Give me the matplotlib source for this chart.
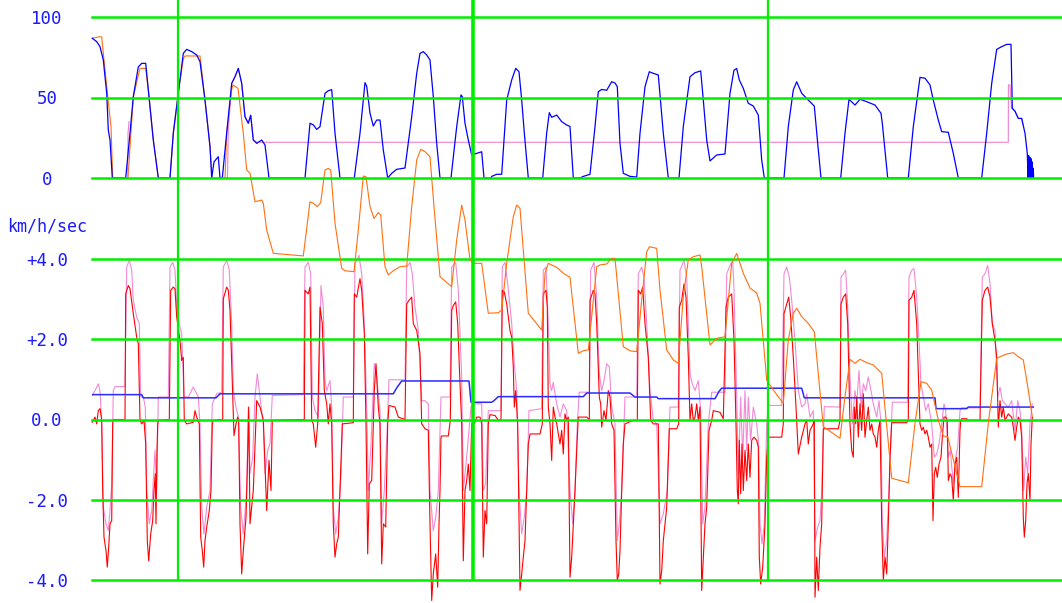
import numpy as np
import matplotlib
matplotlib.use('Agg')
import matplotlib.pyplot as plt

# time in seconds from the left edge of the plot
vlines_t = [86, 381, 676]

# speed (km/h), blue
speed = [(0.3, 86.8), (4.7, 84.7), (8, 81.6), (11.3, 73.3), (14.7, 52.8), (16.3, 29.8), (18, 23.6), (20.3, 0),
         (33.7, 0), (38, 28), (41.3, 50.5), (46.3, 69), (49.7, 71.2), (53.7, 71.2), (56.3, 54.7), (61.3, 23.6), (66.3, 0),
         (78, 0), (81.3, 27.8), (86.3, 52.8), (91.3, 77.4), (94.7, 79.9), (99.7, 78.5), (104.7, 76.4), (108, 72.3),
         (113, 48.4), (118, 19.5), (119.7, 0), (122, 10), (126.3, 13.2), (128, 0), (130.3, 0),
         (134.7, 28), (139.7, 58.8), (143, 62.9), (146.3, 68.1), (149.7, 58.8), (153, 38), (156.3, 34), (158.7, 39),
         (161.3, 23.6), (164.7, 21.5), (169.7, 23.6), (173, 20.5), (177, 0), (213, 0),
         (218, 34), (221.3, 33), (224.7, 30.2), (228, 31.9), (233, 52.6), (236.3, 54.2), (239.7, 54.9), (243, 27.8), (248, 0),
         (262.3, 0), (268, 27.8), (273, 59.2), (274.7, 57), (278, 40.2), (281.3, 32.3), (284.7, 36), (288, 36),
         (291.3, 17.4), (295.7, 0), (299.7, 2.9), (304.7, 5.4), (313, 6.2),
         (319.7, 38), (324.7, 65), (328, 77.4), (331.3, 78.5), (334.7, 76.4), (338, 73.3), (341.3, 50.5), (344.7, 21.5), (348, 0),
         (359, 0), (364.7, 31.9), (369, 51.6), (370.3, 50.5), (373, 34), (376.3, 23.6), (379.7, 14.3), (384.7, 15.3),
         (389.7, 16.3), (392, 0), (399, 0), (399.7, 1), (404.7, 2.3), (409.7, 2.3),
         (414.7, 48.4), (419.7, 60.9), (423.7, 68.1), (427, 66), (429.7, 48.4), (432.3, 28), (436.3, 0),
         (450.7, 0), (454.7, 28), (457.3, 40.6), (459.7, 37.7), (464.7, 39.1), (469.7, 35), (474.7, 32.9), (478, 32), (481.3, 0),
         (488, 0), (491.3, 1), (498, 2.3), (503, 31.9), (506.3, 53.6), (509.7, 55), (514.7, 54.5), (519.7, 59.8), (523, 59),
         (525.3, 56.7), (528, 21.5), (531.3, 2.9), (538, 1), (544.7, 0.6),
         (548, 27.8), (553, 56.7), (557.3, 66), (561.3, 65), (566.3, 64), (571.3, 27.8), (576.3, 0),
         (587, 0), (591.3, 31.9), (598, 62.9), (603, 65.4), (608.7, 66.5), (611.3, 48.4), (614.7, 23.6), (618, 10.6),
         (624.7, 14.3), (633, 14.9), (638, 52.6), (642, 67), (644.7, 68), (647.3, 60.9), (651.3, 55.7), (656.3, 46.4),
         (661.3, 44.7), (666.3, 39.1), (669.7, 11.2), (672.3, 0),
         (692, 0), (696.3, 31.9), (701.3, 54.7), (704.7, 59.8), (709.7, 52.6), (716.3, 48.4), (722.3, 44.7), (725.7, 21.5), (729, 0),
         (748.7, 0), (753, 27.8), (757, 48.9), (763, 45.3), (768, 48.9), (774.7, 47.4), (783, 45.3), (789, 40.2), (790.3, 34), (795.7, 0),
         (816.3, 0), (821.3, 31.9), (828, 62.5), (833, 62), (838, 57.8), (841.3, 48.4), (846.3, 36), (849.7, 28.8),
         (856.3, 28.4), (861.3, 15.3), (866.3, 0),
         (889.7, 0), (894.7, 27.8), (899.7, 58.8), (904.7, 79.9), (909.7, 81.6), (914.7, 83), (919, 83), (920.3, 43.3),
         (923, 41.5), (926.3, 37), (929.7, 37), (933, 27.8), (935.3, 15.3), (936, 0), (936.6, 14), (937.2, 0), (937.8, 13),
         (938.4, 0), (939, 12), (939.6, 0), (940.2, 10), (940.8, 0), (941.3, 6), (941.6, 0)]

# orange trace, same scale as speed (runs below zero)
orange = [(0.3, 86.8), (8, 87.8), (9.7, 87.5), (14.7, 56.7), (19, 31.9), (20.7, 0), (36, 0), (41.3, 50.5), (48, 68.1),
          (53.7, 68.1), (56.3, 54.7), (61.3, 23.6), (66.3, 0), (78, 0), (81.3, 27.8), (86.3, 52.8), (91.3, 74), (93, 75.8),
          (108, 75.8), (113, 48.4), (118, 19.5), (120, 0), (133, 0), (134.7, 28), (139.7, 55), (141, 57.8), (146, 55.7),
          (151.3, 27.8), (154.7, 5), (158, 2.9), (163, -14.7), (169.7, -13.7), (171.3, -15.7), (174.7, -32.3), (181.3, -46.8),
          (211.3, -48.4), (218, -14.7), (221.3, -15.7), (225.3, -17.8), (228.7, -15.3), (233, 5), (236.3, 6), (238.7, 5),
          (243, -28.1), (249.7, -56.1), (253, -57.6), (262, -58.2), (266.3, -32.3), (271.3, 1.2), (274, 0.8), (278, -17.8),
          (282, -25.1), (286.3, -21.5), (288.7, -23), (293, -55.1), (296.3, -60.2), (301.3, -57.6), (308, -55.1),
          (314.7, -54.7), (319.7, -17.8), (324.7, 11.2), (328.7, 17.8), (333, 16.4), (338, 13.2), (342, -17.8), (348, -61.3),
          (359.7, -67.5), (364.7, -38.5), (369.7, -16.8), (373, -26.1), (378, -50.9), (381.3, -53), (389.7, -53),
          (396.3, -84), (406.3, -83.7), (409.7, -82), (414.7, -53), (421.3, -24), (424.7, -16.8), (428, -18.8), (436.3, -84),
          (443, -89.2), (449.7, -94.4), (453, -59.2), (456.3, -53), (459.7, -54), (464.7, -55.5), (471.3, -59.2),
          (478, -61.7), (486.3, -108.9), (491.3, -107.3), (496.3, -106.8), (504.7, -55.1), (508, -54), (514.7, -53.4),
          (519.7, -49.9), (523, -49.9), (531.3, -104.8), (538, -107.3), (544.7, -107.9), (549.7, -75.8), (554.7, -45.8),
          (557.3, -42.7), (564.7, -43.7), (568, -69.6), (574.7, -106.8), (581.3, -113), (586.3, -115.1), (591.3, -73.7),
          (596.3, -50.9), (601.3, -48.9), (608, -47.8), (609.7, -55.1), (618, -103.7), (624.7, -99.6), (633, -98.6),
          (639.7, -53), (644.7, -46.8), (651.3, -59.2), (658, -68.3), (664.7, -71.5), (668, -77.8), (674.7, -125.5),
          (681.3, -131.7), (691.3, -140), (696.3, -100.6), (701.3, -84), (704.7, -80.9), (709.7, -86.1), (716.3, -90.3),
          (722.3, -95.5), (731.3, -154.4), (748, -161.7), (753, -135.8), (758, -112.6), (763, -115.1), (768, -112.6),
          (774.7, -114.7), (781.3, -116.1), (789.7, -121.3), (799.7, -186.5), (816.3, -189.3), (823, -152.4), (829, -126.5),
          (834.7, -127.5), (839.7, -131.7), (846.3, -150.3), (851.3, -160.2), (855.7, -160.7), (868, -191.7),
          (889.7, -191.7), (896.3, -152.4), (904.7, -112), (908, -111), (914.7, -109.3), (921.3, -108.5), (926.3, -111),
          (931.3, -113), (936.3, -131.7), (940.3, -148.3)]

# pink trace on the speed panel (nan = gap)
pink_spd = [(33, 0), (35.7, 0), (36, 28), (37, 35), (np.nan, np.nan),
            (134.5, 0), (135.5, 0), (136.3, 30), (139.7, 58.8), (143, 62.9), (146.3, 68.1), (149.7, 58.8), (153, 38),
            (156.3, 34), (158.7, 39), (161.3, 23.6), (165, 22.2), (916.3, 22.2), (916.4, 57.8), (918, 57.8),
            (919.5, 43.3), (923, 41.5), (926.3, 37), (929.7, 37), (931, 33)]

# acceleration (km/h/sec), red
accel = [(0.3, -0.07), (3.0, 0.06), (4.7, -0.11), (6.3, 0.22), (8.0, 0.27), (9.7, 0.0), (10.7, -1.77), (12.0, -2.93),
         (14.0, -3.27), (15.3, -3.68), (16.7, -3.18), (18.0, -2.60), (19.7, -2.52), (20.7, -0.11), (21.3, 0.0), (33.0, 0.0),
         (33.7, 3.13), (36.3, 3.34), (38.0, 3.26), (41.3, 2.64), (44.7, 2.05), (46.3, 1.89), (48.0, -0.02), (49.7, -0.11),
         (52.0, -0.02), (53.7, -0.61), (55.3, -3.02), (56.7, -3.52), (58.7, -2.85), (60.7, -2.52), (62.0, -1.77),
         (63.3, -1.35), (64.0, -2.60), (65.0, -0.77), (65.7, -0.11), (66.7, -0.02), (77.3, 0.0), (78.7, 3.22), (81.3, 3.30),
         (83.0, 3.26), (84.7, 2.55), (88.0, 1.97), (89.7, 1.47), (91.3, 1.55), (92.3, -0.02), (94.7, -0.11), (101.3, -0.07),
         (103.0, 0.22), (104.7, 0.06), (107.3, -0.11), (108.7, -2.93), (110.3, -3.27), (111.7, -3.68), (113.0, -3.02),
         (114.7, -2.68), (117.3, -2.27), (119.0, -1.77), (120.3, -0.11), (121.3, -0.02), (130.7, 0.0), (131.3, 3.01),
         (134.7, 3.30), (136.3, 3.22), (138.0, 2.72), (140.7, 0.56), (142.0, -0.40), (144.0, -0.11), (145.7, 0.06),
         (146.7, -0.02), (148.0, -2.60), (149.7, -3.85), (151.3, -3.27), (154.0, -2.44), (155.3, -1.27), (156.7, 0.31),
         (158.0, -2.60), (161.3, -1.77), (164.7, 0.47), (168.0, 0.31), (171.3, 0.0),
         (174.7, -2.27), (177.0, -1.02), (179.0, -1.77), (180.3, -0.02), (212.3, 0.0), (213.0, 3.22), (216.3, 3.13),
         (218.0, 3.30), (219.7, -0.02), (221.3, -0.11), (223.7, -0.69), (225.7, -0.11), (228.0, 2.80), (230.3, 2.39),
         (232.3, 0.72), (234.7, 0.39), (236.3, -0.11), (238.0, 0.39), (239.7, -0.11), (241.3, -2.60), (243.0, -3.43),
         (244.7, -3.10), (246.3, -2.93), (248.0, -1.77), (250.3, -0.11), (261.3, -0.08), (262.3, 3.13), (264.7, 3.05),
         (268.0, 3.51), (269.7, 3.22), (272.3, 2.14), (274.0, -0.11), (275.7, -3.35), (277.3, -1.60), (279.7, -1.52),
         (282.3, 0.72), (284.0, 1.39), (286.3, 0.31), (288.0, -0.11), (289.7, -3.60), (291.3, -2.60), (293.7, -2.68),
         (295.7, -0.11), (297.0, 0.35), (303.0, 0.31), (306.3, 0.06), (313.0, 0.0), (314.7, 2.88), (317.0, 2.97),
         (319.7, 3.05), (321.3, 2.39), (324.7, 2.22), (328.0, 1.64), (329.7, -0.11), (333.0, -0.23), (336.3, -0.27),
         (338.0, -2.60), (339.7, -4.51), (341.3, -3.85), (343.7, -3.35), (345.7, -4.18), (347.0, -2.60), (348.0, -1.77),
         (349.0, -0.44), (349.7, -0.41), (356.3, -0.41), (358.3, -0.02), (359.7, 2.72), (361.3, 2.84), (363.7, 2.93),
         (365.7, 2.39), (368.0, 0.89), (369.7, -0.11), (371.3, -3.52), (373.0, -1.77), (374.7, -1.52), (376.3, -1.11),
         (378.0, -1.77), (379.7, -0.11), (382.3, -0.11), (384.7, 0.06), (388.0, 0.06), (389.7, -0.11), (391.3, -3.43),
         (393.0, -2.27), (394.7, -2.60), (396.3, -0.11), (398.0, 0.12), (403.0, 0.10), (406.3, -0.02), (409.0, 0.0),
         (410.3, 3.22), (412.3, 3.18), (414.7, 2.88), (418.0, 2.22), (419.7, 2.05), (421.3, 1.31), (422.3, 0.31),
         (423.7, 0.72), (425.7, -0.11), (428.0, -4.26), (429.7, -3.85), (431.3, -3.43), (433.0, -3.02), (434.7, -1.77),
         (436.3, -0.61), (438.0, -0.36),
         (448.0, -0.36), (450.3, -0.11), (451.3, 3.13), (454.0, 3.22), (455.3, 2.80), (456.3, 0.31), (458.0, -0.11),
         (459.7, -1.02), (461.3, 0.31), (463.0, 0.06), (464.7, -0.11), (468.0, -0.61), (469.7, -0.27), (471.3, -0.86),
         (473.0, 0.14), (474.7, -0.02), (476.3, 0.06), (478.0, -3.93), (479.7, -3.43), (481.3, -2.60), (483.0, -1.77),
         (484.7, -0.77), (486.3, 0.06), (494.7, 0.06), (497.3, 0.0), (498.0, 2.97), (501.3, 3.22), (503.0, 3.13),
         (504.7, 2.39), (507.3, 0.56), (508.7, 0.39), (509.7, -0.19), (512.0, 0.22), (514.0, -0.02), (516.3, 0.72),
         (518.0, 0.56), (519.7, -0.11), (522.0, -0.27), (524.0, -3.02), (525.3, -4.01), (526.7, -3.85), (528.0, -3.27),
         (529.7, -1.77), (531.3, -0.61), (533.0, -0.11), (541.3, -0.02), (545.3, -0.02), (546.3, 3.22), (548.7, 3.13),
         (550.7, 3.30), (553.0, 2.39), (556.3, 1.55), (558.7, -0.02), (561.3, -0.11), (566.3, -0.11), (568.0, -4.10),
         (569.7, -3.77), (571.3, -3.02), (574.7, -2.19), (576.3, -0.94), (577.3, -0.23), (584.7, -0.23), (586.7, -0.11),
         (587.3, 2.80), (589.7, 2.97), (592.0, 3.38), (594.0, 3.05), (596.3, 1.55), (598.0, -0.02), (599.7, 0.39),
         (601.3, -0.02), (603.0, 0.06), (604.7, 0.39), (606.3, -0.02), (608.0, 0.31), (609.7, -4.26), (611.3, -3.43),
         (613.0, -2.60), (614.7, -2.19), (617.0, -0.27), (619.7, -0.02), (621.3, 0.22), (628.0, 0.18), (631.3, 0.02),
         (634.0, 2.80), (636.3, 3.05), (639.7, 3.13), (642.0, 1.97), (644.0, -0.11), (645.3, -1.77), (646.3, -2.10),
         (647.3, -0.52), (648.7, -1.85), (650.0, -0.61), (651.3, -1.77), (653.0, -0.77), (654.7, -1.52), (656.3, -0.61),
         (658.0, -1.44), (659.7, -0.52), (662.0, -0.44), (664.7, -0.52), (666.3, -0.69), (667.3, -3.43), (668.7, -4.10),
         (670.7, -3.68), (673.0, -2.60), (674.7, -0.94), (676.3, -0.44), (678.0, -0.44), (689.7, -0.44), (691.3, -0.11),
         (692.0, 2.64), (694.7, 2.88), (696.7, 3.05), (698.7, 2.55), (701.3, 1.55), (704.0, 0.31), (706.3, -0.86),
         (709.7, -0.44), (713.0, -0.11), (714.7, -0.02), (716.3, -0.61), (718.0, -0.27), (721.3, -0.11), (722.3, -0.02),
         (723.0, -4.43), (724.7, -3.43), (726.3, -4.26), (728.0, -3.18), (729.7, -2.60), (731.3, -0.23), (746.3, -0.23),
         (748.0, -0.02), (749.0, 2.88), (751.3, 3.05), (753.7, 3.13), (755.7, 2.39), (758.0, -0.11), (759.7, -0.77),
         (761.3, -0.94), (762.3, 0.31), (763.7, -0.11), (764.7, 0.56), (766.3, -0.44), (768.0, 0.39), (769.7, -0.27),
         (771.3, 0.64), (773.0, -0.44), (774.7, -0.02), (776.3, 0.31), (778.0, -0.27), (779.7, -0.11), (781.3, -0.36),
         (783.0, -0.44), (784.7, -0.69), (786.3, -0.27), (788.0, -0.02), (789.7, -2.60), (791.3, -4.01), (793.0, -3.43),
         (794.7, -3.85), (796.3, -2.60), (798.0, -0.94), (799.7, -0.08), (814.7, -0.08), (816.3, -0.02), (817.0, 2.97),
         (819.7, 3.05), (822.0, 3.22), (824.7, 2.39), (828.0, -0.11), (829.7, -0.27), (831.3, -0.19), (833.0, -0.36),
         (834.7, -0.27), (836.3, -0.44), (838.0, -0.69), (839.7, -0.61), (841.0, -2.52), (842.3, -1.35), (843.7, -1.19),
         (845.3, -1.44), (847.0, -1.11), (849.0, -0.94), (850.3, -0.44), (852.0, 0.06), (853.7, 0.06), (855.3, -0.02),
         (856.3, -1.52), (858.0, -1.35), (859.7, -1.44), (861.3, -2.02), (863.0, -1.11), (864.7, -0.94), (866.3, -1.94),
         (868.0, -0.27), (868.7, -0.02), (869.7, 0.02), (874.7, 0.02), (875.7, -0.02), (888.0, -0.02), (890.3, 2.97),
         (893.0, 3.22), (895.7, 3.30), (898.0, 3.05), (900.3, 2.39), (903.0, 1.97), (904.7, 1.55), (906.3, -0.19),
         (908.0, 0.47), (909.7, 0.06), (911.3, 0.31), (913.0, -0.02), (916.3, 0.14), (919.7, 0.06), (921.3, -0.19),
         (923.0, -0.52), (924.7, -0.19), (926.3, 0.06), (928.0, -0.02), (929.7, -0.44), (931.3, -2.44), (932.3, -2.93),
         (933.7, -2.52), (935.0, -1.60), (936.3, -1.35), (938.0, -2.02), (939.0, -0.61), (940.3, 0.06)]

# smoothed acceleration, pink
accel_smooth = [(0.3, 0.60), (3.0, 0.72), (6.3, 0.89), (8.0, 0.72), (9.7, -0.11), (11.3, -2.19), (14.0, -2.60),
                (16.3, -2.77), (18.0, -2.27), (19.7, -1.60), (21.3, 0.72), (23.0, 0.82), (33.0, 0.82), (34.7, 3.80),
                (37.3, 3.97), (39.7, 3.72), (41.3, 2.97), (44.7, 2.55), (47.3, 2.39), (48.7, 0.56), (51.3, 0.56),
                (53.3, 0.31), (54.7, -1.77), (57.3, -2.60), (59.7, -2.27), (63.0, -0.77), (64.7, -1.77), (66.3, 0.56),
                (76.3, 0.56), (78.0, 3.80), (80.7, 3.92), (83.0, 3.72), (85.3, 2.55), (89.7, 2.14), (92.0, 0.56),
                (96.3, 0.56), (101.3, 0.81), (106.3, 0.56), (108.0, -0.11), (109.7, -2.19), (112.0, -2.85), (114.7, -2.19),
                (118.0, -1.77), (120.3, 0.39), (124.7, 0.64), (129.7, 0.68), (131.3, 3.80), (134.7, 3.97), (137.3, 3.72),
                (139.7, 2.39), (141.3, 0.72), (144.0, 0.31), (146.3, 0.06), (148.7, -2.19), (151.3, -2.85), (154.7, -1.77),
                (156.3, 0.31), (158.0, -1.35), (160.7, -0.94), (163.0, 0.56), (165.3, 1.14), (168.0, 0.56), (171.3, -0.11),
                (173.0, -1.35), (175.7, -0.77), (178.0, -0.61), (180.3, 0.60), (211.3, 0.62), (213.0, 3.80), (216.3, 3.92),
                (218.7, 3.63), (220.3, 0.56), (223.0, 0.22), (226.3, 0.06), (229.0, 3.34), (231.3, 2.80), (233.0, 0.97),
                (234.7, 0.72), (238.0, 0.97), (239.7, 0.31), (241.3, -2.19), (243.7, -2.85), (246.3, -2.44), (249.0, -1.35),
                (251.3, 0.56), (261.3, 0.56), (263.0, 3.88), (267.0, 4.09), (269.7, 3.63), (272.3, 2.39), (274.7, 0.31),
                (276.3, -1.77), (279.0, -0.61), (282.3, 1.39), (284.7, 1.06), (288.0, 0.22), (289.7, -2.60), (292.3, -1.77),
                (294.7, -0.52), (297.0, 0.99), (313.0, 0.99), (314.7, 3.80), (318.0, 3.92), (320.3, 3.63), (323.0, 2.80),
                (326.3, 2.22), (329.7, 0.47), (333.0, 0.47), (336.3, 0.39), (338.0, -1.77), (341.3, -2.77), (343.7, -2.44),
                (346.3, -1.77), (349.0, 0.56), (358.0, 0.56), (359.7, 3.80), (363.7, 3.92), (366.3, 3.22), (369.7, 1.06),
                (371.3, -1.77), (374.0, -1.11), (376.3, -0.48), (379.0, 0.31), (381.3, 0.39), (389.7, 0.39), (391.3, -1.77),
                (393.7, -1.60), (396.3, 0.22), (409.0, 0.22), (410.3, 3.80), (413.0, 3.92), (415.7, 3.38), (419.7, 2.39),
                (422.3, 1.39), (424.7, 0.72), (427.0, -1.77), (429.7, -2.85), (432.3, -2.44), (434.7, -1.77), (437.0, 0.22),
                (449.7, 0.27), (451.3, 3.72), (454.0, 3.80), (456.3, 2.39), (458.0, 0.89), (459.7, 0.72), (461.3, 0.93),
                (464.7, 0.39), (468.0, 0.06), (471.3, 0.39), (474.7, 0.22), (478.0, -1.77), (480.7, -2.60), (483.0, -1.77),
                (485.3, -0.11), (487.3, 0.68), (497.3, 0.68), (498.7, 3.72), (502.0, 3.92), (504.7, 3.05), (507.3, 1.14),
                (509.7, 0.72), (512.0, 0.97), (514.7, 1.39), (517.3, 1.31), (519.7, 0.31), (523.0, -0.11), (525.3, -3.02),
                (527.3, -2.60), (529.7, -1.77), (533.0, 0.56), (544.7, 0.56), (546.3, 3.63), (549.7, 3.80), (552.0, 3.55),
                (554.7, 2.39), (558.0, 0.72), (561.3, -0.02), (564.7, -0.11), (568.0, -2.60), (571.3, -2.35), (575.3, -1.77),
                (578.0, 0.31), (586.3, 0.31), (588.0, 3.72), (592.0, 3.97), (594.7, 3.55), (598.0, 1.14), (600.3, 0.89),
                (603.0, 0.72), (606.3, 0.97), (608.7, 0.22), (610.7, -2.60), (613.0, -2.19), (616.3, -0.11), (619.7, 0.68),
                (633.0, 0.68), (634.7, 3.63), (637.3, 3.80), (640.7, 3.97), (642.0, 3.22), (644.7, 0.56), (646.3, -1.35),
                (648.7, 0.56), (650.7, -0.94), (653.0, 0.72), (654.7, -0.77), (656.3, 0.56), (658.7, -0.52), (661.3, 0.31),
                (664.7, -0.11), (666.7, -0.61), (668.0, -2.60), (670.0, -3.10), (672.3, -2.60), (674.7, -0.11), (676.3, 0.35),
                (689.7, 0.35), (692.0, 3.63), (694.7, 3.80), (697.3, 3.55), (699.7, 2.97), (703.0, 1.97), (706.3, 0.72),
                (709.7, 0.31), (713.0, 0.39), (714.7, 0.64), (718.0, 0.06), (721.3, 0.22), (723.0, -3.02), (725.7, -2.68),
                (728.0, -2.52), (729.7, -1.77), (732.3, 0.32), (748.0, 0.31), (749.0, 3.55), (751.3, 3.63), (753.7, 3.72),
                (755.7, 2.80), (758.0, 1.06), (760.3, -0.11), (763.0, 0.72), (764.7, 0.39), (767.0, 1.22), (769.0, 0.31),
                (771.3, 0.89), (773.7, 0.72), (776.3, 1.06), (779.0, 0.72), (781.3, 0.39), (784.7, 0.06), (787.0, 0.47),
                (789.0, -0.11), (790.3, -2.60), (792.3, -3.43), (794.7, -3.02), (797.0, -1.77), (800.3, 0.43), (815.7, 0.43),
                (817.0, 3.55), (819.7, 3.72), (822.0, 3.76), (824.7, 3.05), (827.0, 1.97), (829.0, 0.89), (831.3, 0.56),
                (833.7, 0.22), (836.3, 0.39), (839.7, -0.11), (842.3, -0.94), (844.7, -0.86), (847.0, -0.61), (849.7, -0.11),
                (852.0, 0.39), (853.7, 0.22), (856.3, -0.94), (858.3, -0.77), (861.3, -1.60), (863.7, -0.94), (865.7, -0.69),
                (868.0, 0.22), (869.7, 0.29), (888.0, 0.29), (890.3, 3.55), (893.0, 3.63), (895.7, 3.84), (898.0, 3.38),
                (900.3, 2.39), (903.0, 2.22), (905.7, 0.56), (908.0, 0.81), (910.3, 0.47), (913.0, 0.39), (916.3, 0.31),
                (919.7, 0.47), (923.0, -0.27), (925.7, 0.47), (928.0, 0.22), (929.7, -0.27), (931.7, -1.77), (933.7, -0.94),
                (935.7, -1.35), (938.0, -0.11), (940.3, 0.39)]

# blue step line on the acceleration panel
accel_level = [(0, 0.62), (49.7, 0.62), (51.3, 0.54), (124, 0.54), (128, 0.64), (301.3, 0.64), (305, 0.80), (309.7, 0.96),
               (377, 0.96), (379, 0.43), (399.7, 0.43), (402, 0.47), (406.3, 0.57), (491.3, 0.57), (494.7, 0.66),
               (538, 0.66), (543, 0.56), (564.7, 0.56), (566.3, 0.52), (623, 0.52), (627, 0.70), (629.7, 0.78),
               (709.7, 0.78), (712.3, 0.54), (843, 0.54), (844, 0.27), (874.7, 0.27), (876.3, 0.31), (941.3, 0.31)]

spd_ticks = [0, 50, 100]
spd_labels = ['0', '50', '100']
acc_ticks = [-4, -2, 0, 2, 4]
acc_labels = ['-4.0', '-2.0', '0.0', '+2.0', '+4.0']

GREEN = '#00ee00'
LABEL = '#1a1aff'
plt.rcParams['font.family'] = 'DejaVu Sans Mono'

fig = plt.figure(figsize=(10.62, 6.03), dpi=100)
L, W = 92 / 1062, 970 / 1062
ax_acc = fig.add_axes([L, 23 / 603, W, 321 / 603])
ax_spd = fig.add_axes([L, 425 / 603, W, 161 / 603])
ax_grid = fig.add_axes([L, 23 / 603, W, 580 / 603])

for ax in (ax_acc, ax_spd, ax_grid):
    ax.set_xlim(0, 970)
    ax.set_facecolor('none')
    ax.set_xticks([])
    for s in ax.spines.values():
        s.set_visible(False)

# acceleration panel
t, a = np.array(accel_smooth).T
ax_acc.plot(t, a, color='#f28ad6', lw=0.8, clip_on=False)
t, a = np.array(accel).T
ax_acc.plot(t, a, color='#ff0000', lw=0.8, clip_on=False)
t, a = np.array(accel_level).T
ax_acc.plot(t, a, color='#2a2aff', lw=1.1)
ax_acc.set_ylim(-4, 4)
ax_acc.set_yticks(acc_ticks)
ax_acc.set_yticklabels(acc_labels)
for v in acc_ticks:
    ax_acc.axhline(v, color=GREEN, lw=1.8, zorder=5, clip_on=False)

# speed panel
t, v = np.array(orange).T
ax_spd.plot(t, v, color='#ff7010', lw=0.8, clip_on=False)
t, v = np.array(pink_spd).T
ax_spd.plot(t, v, color='#f080d0', lw=0.8)
t, v = np.array(speed).T
ax_spd.plot(t, v, color='#0000ff', lw=0.9, clip_on=False)
ax_spd.set_ylim(0, 100)
ax_spd.set_yticks(spd_ticks)
ax_spd.set_yticklabels(spd_labels)
for v in spd_ticks:
    ax_spd.axhline(v, color=GREEN, lw=1.8, zorder=5, clip_on=False)

for ax in (ax_acc, ax_spd):
    ax.tick_params(axis='y', length=0, pad=32.4, labelsize=12.5, labelcolor=LABEL)
    for lab in ax.get_yticklabels():
        lab.set_horizontalalignment('center')

# vertical grid lines run from the top edge down to -4.0
ax_grid.set_ylim(0, 1)
ax_grid.set_yticks([])
for i, x in enumerate(vlines_t):
    ax_grid.axvline(x, color=GREEN, lw=2.6 if i == 1 else 1.6)

fig.text(47 / 1062, 1 - 227 / 603, 'km/h/sec', ha='center', va='center', color=LABEL, fontsize=12)

fig.savefig('out.png', dpi=100, facecolor='white')
